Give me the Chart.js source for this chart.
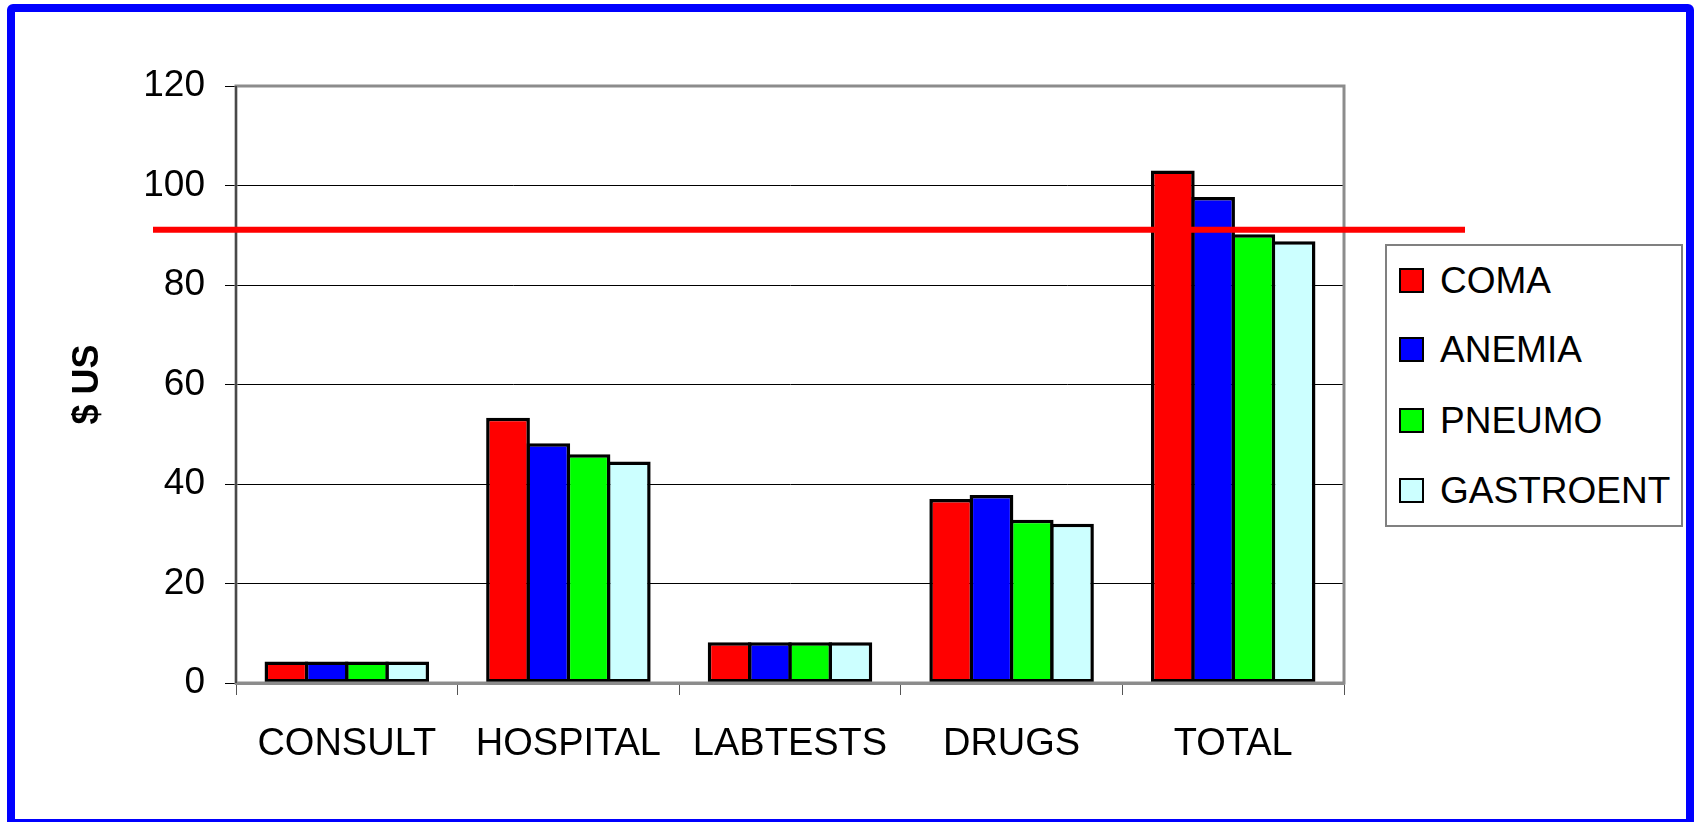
<!DOCTYPE html>
<html>
<head>
<meta charset="utf-8">
<script src="https://cdn.jsdelivr.net/npm/chart.js@4.4.1/dist/chart.umd.min.js"></script>
<style>
  html, body { margin: 0; padding: 0; background: #fff; overflow: hidden; }
  body { width: 1694px; height: 822px; position: relative; font-family: "Liberation Sans", Arial, sans-serif; }
  #frame { position: absolute; left: 7px; top: 4px; width: 1671px; height: 807px; border: 8px solid #0000ff; border-radius: 6px; }
  #chart { position: absolute; left: 0; top: 0; }
  #legend { position: absolute; left: 1385px; top: 244px; width: 294px; height: 279px; border: 2px solid #808080; background: #fff; }
  .item { position: absolute; left: 12px; height: 40px; line-height: 40px; font-size: 37px; color: #000; white-space: nowrap; }
  .item span.sw { position: absolute; left: 0; top: 7px; width: 21px; height: 21px; border: 2px solid #000; }
  .item span.tx { position: absolute; left: 41px; top: 0; }
</style>
</head>
<body>
<div id="frame"></div>
<canvas id="chart" width="1694" height="822"></canvas>
<div id="legend"></div>
<script>
// categories and series
const categories = ['CONSULT', 'HOSPITAL', 'LABTESTS', 'DRUGS', 'TOTAL'];
const seriesNames = ['COMA', 'ANEMIA', 'PNEUMO', 'GASTROENT'];
const coma      = [4.3, 53.3, 8.2, 37.0, 103.0];
const anemia    = [4.3, 48.2, 8.2, 37.8, 97.7];
const pneumo    = [4.3, 46.0, 8.2, 32.8, 90.2];
const gastroent = [4.3, 44.5, 8.2, 32.0, 88.8];
const colors = ['#ff0000', '#0000ff', '#00ff00', '#ccffff'];
const yTicks = [0, 20, 40, 60, 80, 100, 120];
const threshold = 91.1;

const seriesValues = [coma, anemia, pneumo, gastroent];

// plot frame (grey box round the plot area)
const plotFrame = {
    id: 'plotFrame',
    afterDatasetsDraw(chart) {
        const a = chart.chartArea;
        const ctx = chart.ctx;
        ctx.save();
        ctx.strokeStyle = '#8c8c8c';
        ctx.lineWidth = 3;
        ctx.strokeRect(a.left, a.top, a.right - a.left, a.bottom - a.top);
        ctx.strokeStyle = '#333';
        ctx.lineWidth = 1.5;
        ctx.beginPath();
        ctx.moveTo(a.left, a.top);
        ctx.lineTo(a.left, a.bottom);
        ctx.stroke();
        ctx.restore();
    }
};

// red reference line, runs past the plot on both sides
const refLine = {
    id: 'refLine',
    afterDraw(chart) {
        const a = chart.chartArea;
        const y = chart.scales.y.getPixelForValue(threshold);
        const ctx = chart.ctx;
        ctx.save();
        ctx.strokeStyle = '#ff0000';
        ctx.lineWidth = 6;
        ctx.beginPath();
        ctx.moveTo(a.left - 83, y);
        ctx.lineTo(a.right + 121, y);
        ctx.stroke();
        ctx.restore();
    }
};

new Chart(document.getElementById('chart'), {
    type: 'bar',
    data: {
        labels: categories,
        datasets: seriesNames.map((name, i) => ({
            label: name,
            data: seriesValues[i],
            backgroundColor: colors[i],
            borderColor: '#000',
            borderWidth: 3.5,
            borderSkipped: false,
            categoryPercentage: 0.7266,
            barPercentage: 1.087
        }))
    },
    options: {
        responsive: false,
        animation: false,
        devicePixelRatio: 1,
        layout: { padding: { top: 86, right: 350, left: 0, bottom: 0 } },
        plugins: {
            legend: { display: false },
            tooltip: { enabled: false }
        },
        scales: {
            x: {
                afterFit(scale) { scale.height = 139; },
                grid: { drawOnChartArea: false, drawTicks: true, tickLength: 12, color: '#555', offset: true },
                border: { color: '#8c8c8c', width: 3 },
                ticks: {
                    color: '#000',
                    font: { family: 'Liberation Sans', size: 38 },
                    padding: 27,
                    maxRotation: 0,
                    autoSkip: false
                }
            },
            y: {
                min: 0,
                max: 120,
                afterFit(scale) { scale.width = 236; },
                afterBuildTicks(scale) { scale.ticks = yTicks.map(v => ({ value: v })); },
                grid: { color: '#000', lineWidth: 1, tickLength: 11, drawTicks: true },
                border: { color: '#333', width: 2 },
                ticks: {
                    color: '#000',
                    font: { family: 'Liberation Sans', size: 37 },
                    padding: 20
                },
                title: {
                    display: true,
                    text: '$ US',
                    color: '#000',
                    font: { family: 'Liberation Sans', size: 36, weight: 'bold' },
                    padding: { top: 66, bottom: 0 }
                }
            }
        }
    },
    plugins: [plotFrame, refLine]
});

// legend box
const legend = document.getElementById('legend');
const itemTops = [15, 84, 155, 225];
seriesNames.forEach((name, i) => {
    const d = document.createElement('div');
    d.className = 'item';
    d.style.top = itemTops[i] + 'px';
    d.innerHTML = '<span class="sw" style="background:' + colors[i] + '"></span><span class="tx">' + name + '</span>';
    legend.appendChild(d);
});
</script>
</body>
</html>
